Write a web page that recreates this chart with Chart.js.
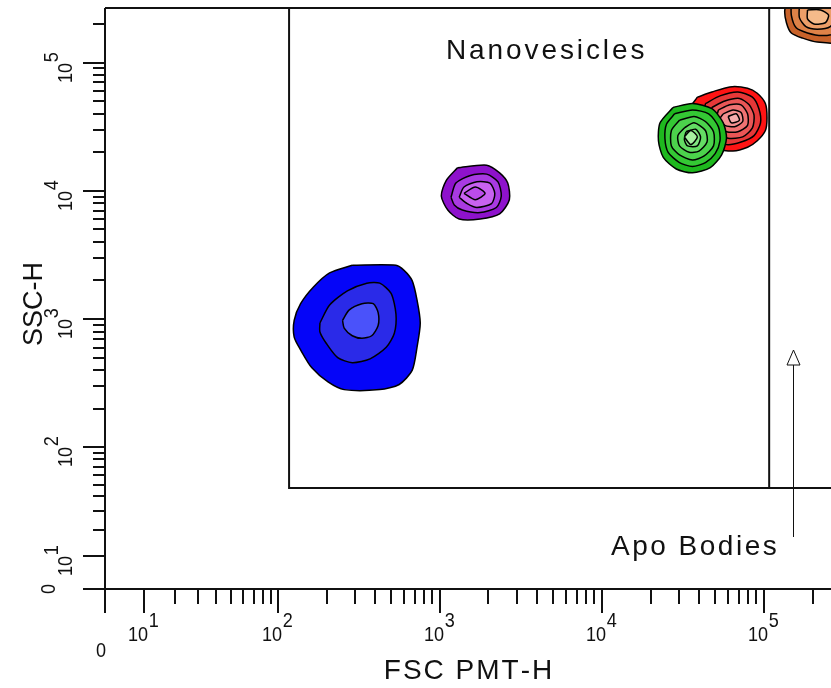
<!DOCTYPE html>
<html>
<head>
<meta charset="utf-8">
<title>Nanovesicles / Apo Bodies</title>
<script src="https://cdn.jsdelivr.net/npm/chart.js@4.4.1/dist/chart.umd.min.js"></script>
<style>
  html, body { margin: 0; padding: 0; background: #fff; }
  #facsPlot { display: block; }
</style>
</head>
<body>
<canvas id="facsPlot" width="831" height="688"></canvas>
<script>
// axis ranges and arcsinh cofactors (display is log above ~100, linear near 0)
const xMax = 2.6e5, yMax = 2.66e5;
const xCofactor = 17.2, yCofactor = 15.75;

// tick marks
const xDecades = [1, 2, 3, 4, 5];
const yDecades = [1, 2, 3, 4, 5];
const minorSteps = [2, 3, 4, 5, 6, 7, 8, 9];
const minorDecades = [1, 2, 3, 4];
const extraMinor = [2e5];
const decadeLabels = ['1', '2', '3', '4', '5'];

// gates (FSC, SSC)
const nanoGateX = [117, 1.08e5];
const gateBottom = 47;
const apoGateX = [1.08e5, 4e5];

// contour levels, outermost first; vertices are [log10 FSC, log10 SSC]
const blueLevels = [
  [[2.46,3.42],[2.32,3.36],[2.22,3.25],[2.14,3.12],[2.10,2.99],[2.10,2.86],[2.14,2.76],[2.21,2.62],[2.31,2.51],[2.41,2.45],[2.63,2.45],[2.75,2.49],[2.83,2.60],[2.86,2.78],[2.88,2.97],[2.86,3.15],[2.83,3.30],[2.78,3.38],[2.73,3.42]],
  [[2.26,2.97],[2.32,3.11],[2.43,3.22],[2.55,3.28],[2.63,3.28],[2.70,3.20],[2.73,3.04],[2.72,2.89],[2.67,2.78],[2.57,2.69],[2.46,2.66],[2.37,2.70],[2.30,2.81],[2.26,2.90]],
  [[2.40,2.99],[2.44,3.07],[2.52,3.12],[2.59,3.12],[2.62,3.05],[2.62,2.95],[2.58,2.87],[2.52,2.85],[2.46,2.87],[2.41,2.93]]
];
const blueColors = ['#0505f8', '#2a2ae8', '#4a52fa'];

const purpleLevels = [
  [[3.11,4.18],[3.29,4.20],[3.37,4.14],[3.42,4.06],[3.43,3.93],[3.37,3.82],[3.25,3.78],[3.12,3.78],[3.05,3.85],[3.01,3.96],[3.04,4.08]],
  [[3.07,3.95],[3.10,4.06],[3.19,4.12],[3.29,4.13],[3.36,4.07],[3.38,3.96],[3.35,3.87],[3.25,3.83],[3.14,3.85],[3.09,3.89]],
  [[3.12,3.95],[3.15,4.03],[3.23,4.07],[3.31,4.06],[3.34,3.98],[3.32,3.90],[3.23,3.87],[3.17,3.90]],
  [[3.15,3.98],[3.22,4.03],[3.28,3.98],[3.22,3.93]]
];
const purpleColors = ['#8e12cc', '#a93ae2', '#c862f0', '#bb4cea'];

const redLevels = [
  [[4.59,4.73],[4.68,4.77],[4.79,4.81],[4.90,4.80],[4.96,4.76],[5.01,4.68],[5.02,4.57],[5.01,4.47],[4.96,4.39],[4.90,4.34],[4.81,4.31],[4.70,4.33],[4.57,4.43],[4.53,4.61]],
  [[4.64,4.68],[4.73,4.74],[4.84,4.77],[4.93,4.73],[4.97,4.64],[4.98,4.53],[4.94,4.43],[4.86,4.38],[4.77,4.36],[4.68,4.41],[4.62,4.51]],
  [[4.68,4.65],[4.76,4.70],[4.85,4.72],[4.91,4.67],[4.94,4.59],[4.93,4.49],[4.87,4.42],[4.78,4.41],[4.70,4.45],[4.65,4.53]],
  [[4.72,4.63],[4.79,4.67],[4.86,4.67],[4.90,4.60],[4.90,4.51],[4.84,4.46],[4.77,4.46],[4.70,4.51]],
  [[4.75,4.60],[4.81,4.63],[4.86,4.61],[4.87,4.54],[4.82,4.50],[4.76,4.51],[4.73,4.56]],
  [[4.78,4.58],[4.83,4.60],[4.85,4.55],[4.80,4.53]]
];
const redColors = ['#ff1414', '#e63838', '#ea5656', '#ef7272', '#f29090', '#f6acac'];

const greenLevels = [
  [[4.44,4.65],[4.56,4.68],[4.68,4.64],[4.75,4.53],[4.77,4.41],[4.74,4.28],[4.67,4.18],[4.56,4.14],[4.46,4.17],[4.38,4.26],[4.35,4.39],[4.36,4.53]],
  [[4.45,4.60],[4.56,4.63],[4.66,4.60],[4.72,4.50],[4.73,4.39],[4.70,4.29],[4.64,4.22],[4.56,4.19],[4.48,4.22],[4.41,4.30],[4.39,4.41],[4.40,4.52]],
  [[4.48,4.55],[4.57,4.58],[4.64,4.54],[4.69,4.46],[4.69,4.35],[4.63,4.27],[4.56,4.24],[4.48,4.28],[4.43,4.35],[4.43,4.47]],
  [[4.51,4.49],[4.57,4.53],[4.64,4.47],[4.65,4.38],[4.60,4.31],[4.54,4.30],[4.48,4.35],[4.47,4.43]],
  [[4.52,4.46],[4.58,4.48],[4.61,4.42],[4.59,4.35],[4.53,4.35],[4.51,4.40]],
  [[4.51,4.42],[4.55,4.47],[4.59,4.42],[4.55,4.36]]
];
const greenColors = ['#1eb81e', '#34c834', '#4cd24c', '#64dc64', '#80e680', '#a6f0a0'];

const orangeLevels = [
  [[5.16,5.52],[5.13,5.41],[5.14,5.31],[5.17,5.23],[5.24,5.19],[5.33,5.16],[5.47,5.16],[5.53,5.33],[5.47,5.52]],
  [[5.17,5.47],[5.17,5.37],[5.20,5.27],[5.27,5.23],[5.36,5.21],[5.44,5.23],[5.50,5.33],[5.47,5.47]],
  [[5.22,5.45],[5.22,5.35],[5.26,5.28],[5.33,5.26],[5.41,5.28],[5.44,5.36],[5.41,5.45]],
  [[5.27,5.41],[5.27,5.34],[5.31,5.30],[5.38,5.31],[5.40,5.37],[5.35,5.41]]
];
const orangeColors = ['#c8622a', '#de8248', '#ec9e68', '#f5ba8a'];

const populations = [
  { levels: blueLevels, colors: blueColors },
  { levels: purpleLevels, colors: purpleColors },
  { levels: redLevels, colors: redColors },
  { levels: greenLevels, colors: greenColors },
  { levels: orangeLevels, colors: orangeColors }
];

class AsinhScale extends Chart.LinearScale {
  static id = 'asinh';
  static defaults = Chart.LinearScale.defaults;
  cof() { return this.axis === 'x' ? xCofactor : yCofactor; }
  tf(v) { return Math.asinh(v / this.cof()); }
  getPixelForValue(v) {
    const a = this.tf(this.min), b = this.tf(this.max);
    return this.getPixelForDecimal((this.tf(v) - a) / (b - a));
  }
  getValueForPixel(p) {
    const a = this.tf(this.min), b = this.tf(this.max);
    return this.cof() * Math.sinh(a + this.getDecimalForPixel(p) * (b - a));
  }
}
Chart.register(AsinhScale);

const FONT = '"Liberation Sans", Arial, Helvetica, sans-serif';

const datasets = [];
populations.forEach(pop => {
  pop.levels.forEach((lvl, i) => {
    const pts = lvl.map(p => ({ x: 10 ** p[0], y: 10 ** p[1] }));
    pts.push(pts[0]);
    datasets.push({
      data: pts,
      showLine: true,
      fill: 'shape',
      backgroundColor: pop.colors[i],
      borderColor: '#000',
      borderWidth: 1.5,
      pointRadius: 0,
      tension: 0.25,
      clip: 0
    });
  });
});

// gate outlines
datasets.push({
  data: [
    { x: nanoGateX[0], y: yMax * 1.2 }, { x: nanoGateX[0], y: gateBottom },
    { x: nanoGateX[1], y: gateBottom }, { x: nanoGateX[1], y: yMax * 1.2 }
  ],
  showLine: true, fill: false, borderColor: '#111', borderWidth: 2, pointRadius: 0, clip: 0
});
datasets.push({
  data: [{ x: apoGateX[0], y: gateBottom }, { x: apoGateX[1], y: gateBottom }],
  showLine: true, fill: false, borderColor: '#111', borderWidth: 2, pointRadius: 0, clip: 0
});
datasets.forEach((d, i) => { d.order = -i; });

// "10" with a raised exponent, narrow and tall like the original
function sup(ctx, base, exp, x, y, rot) {
  ctx.save();
  ctx.translate(x, y);
  if (rot) ctx.rotate(-Math.PI / 2);
  ctx.scale(0.86, 1);
  ctx.textAlign = 'right';
  ctx.fillText(base, 0, 0);
  ctx.textAlign = 'left';
  ctx.fillText(exp, 1, -14);
  ctx.restore();
}

// text with extra spacing between letters, left aligned at x
function spaced(ctx, text, x, y, gap) {
  let cx = x;
  for (const ch of text) {
    ctx.fillText(ch, cx, y);
    cx += ctx.measureText(ch).width + gap;
  }
}
function spacedWidth(ctx, text, gap) {
  let w = 0;
  for (const ch of text) w += ctx.measureText(ch).width + gap;
  return w - gap;
}

const facsAxes = {
  id: 'facsAxes',
  afterDraw(chart) {
    const ctx = chart.ctx, xs = chart.scales.x, ys = chart.scales.y, a = chart.chartArea;
    const L = Math.round(a.left), B = Math.round(a.bottom), T = Math.round(a.top), R = Math.round(a.right);
    ctx.save();
    ctx.strokeStyle = '#111';
    ctx.lineWidth = 2;
    ctx.beginPath();
    ctx.moveTo(L, T); ctx.lineTo(R, T);
    ctx.moveTo(L, T); ctx.lineTo(L, B + 24);
    ctx.moveTo(L - 22, B); ctx.lineTo(R, B);
    xDecades.forEach(k => {
      const px = Math.round(xs.getPixelForValue(10 ** k));
      ctx.moveTo(px, B); ctx.lineTo(px, B + 24);
    });
    yDecades.forEach(k => {
      const py = Math.round(ys.getPixelForValue(10 ** k));
      ctx.moveTo(L, py); ctx.lineTo(L - 22, py);
    });
    const minors = [];
    minorDecades.forEach(k => minorSteps.forEach(m => minors.push(m * 10 ** k)));
    extraMinor.forEach(v => minors.push(v));
    minors.forEach(v => {
      const px = Math.round(xs.getPixelForValue(v));
      if (px <= R) { ctx.moveTo(px, B); ctx.lineTo(px, B + 15); }
      const py = Math.round(ys.getPixelForValue(v));
      if (py >= T) { ctx.moveTo(L, py); ctx.lineTo(L - 12, py); }
    });
    ctx.stroke();

    // tick labels
    ctx.fillStyle = '#111';
    ctx.font = '21px ' + FONT;
    ctx.textBaseline = 'alphabetic';
    xDecades.forEach((k, i) => {
      const px = Math.round(xs.getPixelForValue(10 ** k));
      sup(ctx, '10', decadeLabels[i], px + 4, 641, false);
    });
    yDecades.forEach((k, i) => {
      const py = Math.round(ys.getPixelForValue(10 ** k));
      sup(ctx, '10', decadeLabels[i], 72, py, true);
    });
    ctx.save();
    ctx.translate(L - 4, 657);
    ctx.scale(0.86, 1);
    ctx.textAlign = 'center';
    ctx.fillText('0', 0, 0);
    ctx.restore();
    ctx.save();
    ctx.translate(55, B);
    ctx.rotate(-Math.PI / 2);
    ctx.scale(0.86, 1);
    ctx.textAlign = 'center';
    ctx.fillText('0', 0, 0);
    ctx.restore();

    // axis titles
    ctx.font = '27px ' + FONT;
    ctx.textAlign = 'center';
    ctx.save();
    ctx.translate(42, 304);
    ctx.rotate(-Math.PI / 2);
    ctx.fillText('SSC-H', 0, 0);
    ctx.restore();

    ctx.font = '28px ' + FONT;
    ctx.textAlign = 'left';
    const fscW = spacedWidth(ctx, 'FSC PMT-H', 2);
    spaced(ctx, 'FSC PMT-H', 468 - fscW / 2, 679, 2);

    // gate names and arrow
    spaced(ctx, 'Nanovesicles', 446, 59, 2.9);
    spaced(ctx, 'Apo Bodies', 611, 555, 2.5);
    ctx.lineWidth = 1;
    ctx.beginPath();
    ctx.moveTo(793.5, 537); ctx.lineTo(793.5, 364);
    ctx.stroke();
    ctx.beginPath();
    ctx.moveTo(793.5, 350); ctx.lineTo(787, 365); ctx.lineTo(800, 365); ctx.closePath();
    ctx.fillStyle = '#fff';
    ctx.fill();
    ctx.stroke();
    ctx.restore();
  }
};

new Chart(document.getElementById('facsPlot').getContext('2d'), {
  type: 'scatter',
  data: { datasets: datasets },
  options: {
    responsive: false,
    animation: false,
    events: [],
    layout: { padding: { left: 105, top: 8, right: 0, bottom: 99 } },
    scales: {
      x: { type: 'asinh', min: 0, max: xMax, display: false },
      y: { type: 'asinh', min: 0, max: yMax, display: false }
    },
    plugins: { legend: { display: false }, tooltip: { enabled: false } }
  },
  plugins: [facsAxes]
});
</script>
</body>
</html>
